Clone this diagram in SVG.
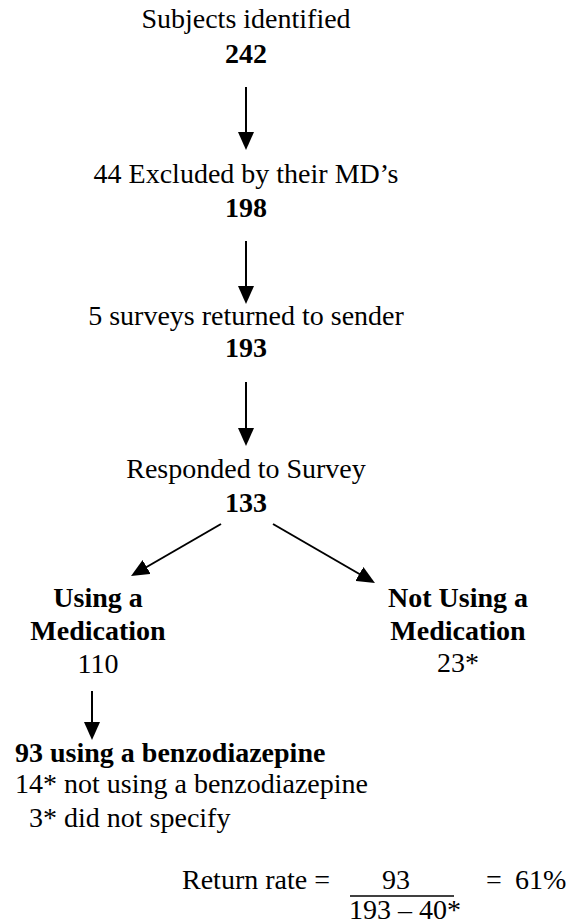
<svg xmlns="http://www.w3.org/2000/svg" width="570" height="924" viewBox="0 0 570 924">
<style>
text{font-family:"Liberation Serif","Times New Roman",serif;font-size:28px;fill:#000}
.b{font-weight:bold}
.c{text-anchor:middle}
.ln{stroke:#000;stroke-width:2;fill:none}
</style>
<defs>
<marker id="ah" markerWidth="18" markerHeight="16" refX="14" refY="8" orient="auto" markerUnits="userSpaceOnUse">
<path d="M0,0 L18,8 L0,16 z" fill="#000"/>
</marker>
</defs>
<rect width="570" height="924" fill="#fff"/>
<g id="identified">
<text class="c" x="246" y="28">Subjects identified</text>
<text class="c b" x="246" y="63">242</text>
</g>
<g id="excluded">
<text class="c" x="246" y="183">44 Excluded by their MD’s</text>
<text class="c b" x="246" y="217">198</text>
</g>
<g id="returned">
<text class="c" x="246" y="325">5 surveys returned to sender</text>
<text class="c b" x="246" y="357">193</text>
</g>
<g id="responded">
<text class="c" x="246" y="478">Responded to Survey</text>
<text class="c b" x="246" y="512">133</text>
</g>
<g id="using">
<text class="c b" x="98" y="607">Using a</text>
<text class="c b" x="98" y="640">Medication</text>
<text class="c" x="98" y="673">110</text>
</g>
<g id="notusing">
<text class="c b" x="458" y="607">Not Using a</text>
<text class="c b" x="458" y="640">Medication</text>
<text class="c" x="458" y="672">23*</text>
</g>
<g id="benzo">
<text class="b" x="15" y="762">93 using a benzodiazepine</text>
<text x="15" y="793">14* not using a benzodiazepine</text>
<text x="29" y="827">3* did not specify</text>
</g>
<g id="returnrate">
<text x="182" y="889">Return rate =</text>
<text x="382" y="889">93</text>
<line x1="350" y1="896" x2="454" y2="896" stroke="#000" stroke-width="1.5"/>
<text x="349" y="919">193 – 40*</text>
<text x="486" y="889">=</text>
<text x="515" y="889">61%</text>
</g>
<g id="connectors">
<line class="ln" x1="246" y1="87" x2="246" y2="146" marker-end="url(#ah)"/>
<line class="ln" x1="246" y1="241" x2="246" y2="300" marker-end="url(#ah)"/>
<line class="ln" x1="246" y1="382" x2="246" y2="442" marker-end="url(#ah)"/>
<line class="ln" x1="221" y1="524" x2="134.5" y2="574" marker-end="url(#ah)"/>
<line class="ln" x1="273" y1="524" x2="371.5" y2="581" marker-end="url(#ah)"/>
<line class="ln" x1="92" y1="691" x2="92" y2="736" marker-end="url(#ah)"/>
</g>
</svg>
